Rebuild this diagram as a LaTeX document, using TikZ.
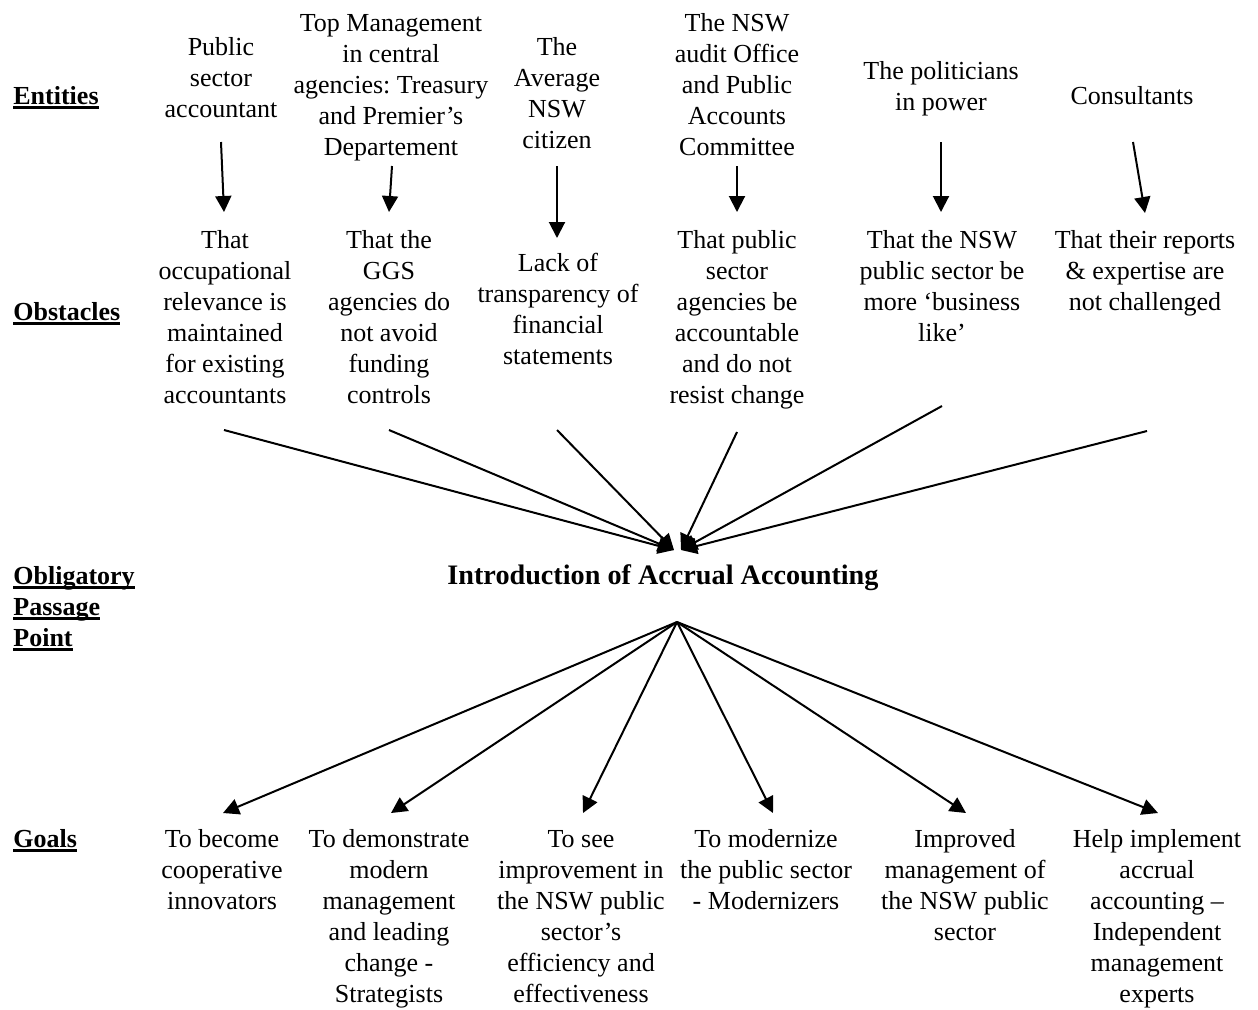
\documentclass[tikz,border=0pt]{standalone}
\usepackage{fontspec}
\setmainfont{Liberation Serif}
\usetikzlibrary{arrows.meta}
\frenchspacing
\newcommand{\undl}[1]{\setbox0\hbox{#1}\rlap{\rule[-2.5pt]{\wd0}{1.3pt}}\box0}
\tikzset{
	txt/.style={anchor=base, align=center, inner sep=0pt, font=\fontsize{13pt}{15.5pt}\selectfont},
	lbl/.style={anchor=base west, align=left, inner sep=0pt, font=\fontsize{13pt}{15.5pt}\selectfont\bfseries},
	arr/.style={line width=1pt, -{Triangle[length=8pt,width=8pt]}}
}
\begin{document}
\begin{tikzpicture}[x=0.5pt, y=-0.5pt]
		% the page
		\useasboundingbox (0,0) rectangle (1258,1009);
		% row labels (placed at the baseline of their last line)
		\node[lbl] (lblent) at (13,104) {\undl{Entities}};
		\node[lbl] (lblobs) at (13,320) {\undl{Obstacles}};
		\node[lbl] (lblopp) at (13,646) {\undl{Obligatory}\\\undl{Passage}\\\undl{Point}};
		\node[lbl] (lblgoal) at (13,847) {\undl{Goals}};
		% entities
		\node[txt] (ent1) at (221,117) {Public\\sector\\accountant};
		\node[txt] (ent2) at (391,155) {Top Management\\in central\\agencies: Treasury\\and Premier’s\\Departement};
		\node[txt] (ent3) at (557,148) {The\\Average\\NSW\\citizen};
		\node[txt] (ent4) at (737,155) {The NSW\\audit Office\\and Public\\Accounts\\Committee};
		\node[txt] (ent5) at (941,110) {The politicians\\in power};
		\node[txt] (ent6) at (1132,104) {Consultants};
		% obstacles
		\node[txt] (obs1) at (225,403) {That\\occupational\\relevance is\\maintained\\for existing\\accountants};
		\node[txt] (obs2) at (389,403) {That the\\GGS\\agencies do\\not avoid\\funding\\controls};
		\node[txt] (obs3) at (558,364) {Lack of\\transparency of\\financial\\statements};
		\node[txt] (obs4) at (737,403) {That public\\sector\\agencies be\\accountable\\and do not\\resist change};
		\node[txt] (obs5) at (942,341) {That the NSW\\public sector be\\more ‘business\\like’};
		\node[txt] (obs6) at (1145,310) {That their reports\\\& expertise are\\not challenged};
		% obligatory passage point
		\node[txt, font=\fontsize{14.1pt}{15.5pt}\selectfont\bfseries] (opp) at (663,584) {Introduction of Accrual Accounting};
		% goals
		\node[txt] (goal1) at (222,909) {To become\\cooperative\\innovators};
		\node[txt] (goal2) at (389,1002) {To demonstrate\\modern\\management\\and leading\\change -\\Strategists};
		\node[txt] (goal3) at (581,1002) {To see\\improvement in\\the NSW public\\sector’s\\efficiency and\\effectiveness};
		\node[txt] (goal4) at (766,909) {To modernize\\the public sector\\- Modernizers};
		\node[txt] (goal5) at (965,940) {Improved\\management of\\the NSW public\\sector};
		\node[txt] (goal6) at (1157,1002) {Help implement\\accrual\\accounting –\\Independent\\management\\experts};
		% arrow ends
		\coordinate (ent1 out) at (221,142);
		\coordinate (ent2 out) at (392,166);
		\coordinate (ent3 out) at (557,166);
		\coordinate (ent4 out) at (737,166);
		\coordinate (ent5 out) at (941,142);
		\coordinate (ent6 out) at (1133,142);
		\coordinate (obs1 in) at (224,212);
		\coordinate (obs2 in) at (389,212);
		\coordinate (obs3 in) at (557,238);
		\coordinate (obs4 in) at (737,212);
		\coordinate (obs5 in) at (941,212);
		\coordinate (obs6 in) at (1145,213);
		\coordinate (obs1 out) at (224,430);
		\coordinate (obs2 out) at (389,430);
		\coordinate (obs3 out) at (557,430);
		\coordinate (obs4 out) at (737,432);
		\coordinate (obs5 out) at (942,406);
		\coordinate (obs6 out) at (1147,431);
		\coordinate (opp inl) at (674,550);
		\coordinate (opp inr) at (681,550);
		\coordinate (opp out) at (677,622);
		\coordinate (goal1 in) at (223,813);
		\coordinate (goal2 in) at (391,813);
		\coordinate (goal3 in) at (583,813);
		\coordinate (goal4 in) at (773,813);
		\coordinate (goal5 in) at (966,813);
		\coordinate (goal6 in) at (1158,813);
		% entities to obstacles
		\draw[arr] (ent1 out) -- (obs1 in);
		\draw[arr] (ent2 out) -- (obs2 in);
		\draw[arr] (ent3 out) -- (obs3 in);
		\draw[arr] (ent4 out) -- (obs4 in);
		\draw[arr] (ent5 out) -- (obs5 in);
		\draw[arr] (ent6 out) -- (obs6 in);
		% obstacles to the passage point
		\draw[arr] (obs1 out) -- (opp inl);
		\draw[arr] (obs2 out) -- (opp inl);
		\draw[arr] (obs3 out) -- (opp inl);
		\draw[arr] (obs4 out) -- (opp inr);
		\draw[arr] (obs5 out) -- (opp inr);
		\draw[arr] (obs6 out) -- (opp inr);
		% passage point to goals
		\draw[arr] (opp out) -- (goal1 in);
		\draw[arr] (opp out) -- (goal2 in);
		\draw[arr] (opp out) -- (goal3 in);
		\draw[arr] (opp out) -- (goal4 in);
		\draw[arr] (opp out) -- (goal5 in);
		\draw[arr] (opp out) -- (goal6 in);
	\end{tikzpicture}
\end{document}
